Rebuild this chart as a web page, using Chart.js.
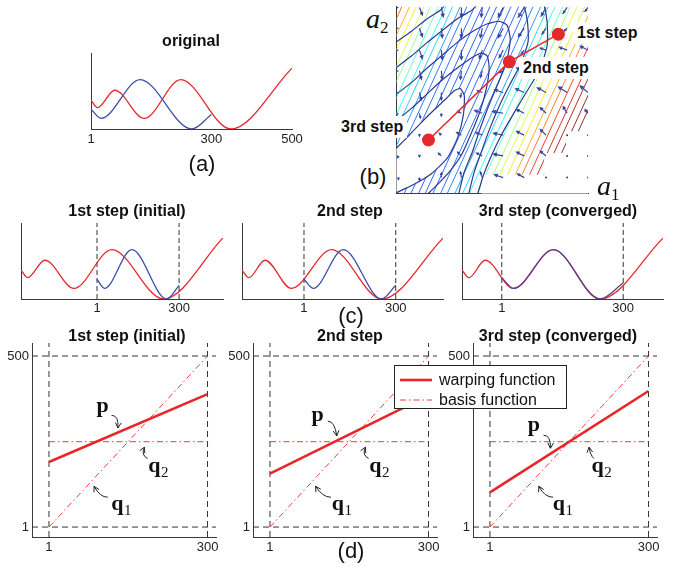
<!DOCTYPE html>
<html>
<head>
<meta charset="utf-8">
<script src="https://cdn.jsdelivr.net/npm/chart.js@4.4.1/dist/chart.umd.min.js"></script>
<style>
  html, body { margin: 0; padding: 0; background: #fff; overflow: hidden; }
  #fig { position: relative; width: 677px; height: 567px; overflow: hidden; font-family: "Liberation Sans", Arial, sans-serif; color: #111; }
  #fig canvas { position: absolute; }
  .ttl { position: absolute; transform: translate(-50%, -50%); font-weight: bold; font-size: 16px; white-space: nowrap; }
  .pan { position: absolute; transform: translate(-50%, -50%); font-size: 22px; white-space: nowrap; }
  .stp { position: absolute; transform: translateY(-50%); font-weight: bold; font-size: 16px; background: #fff; padding: 2px 4px; white-space: nowrap; }
  .ax { position: absolute; font-family: "Liberation Serif", serif; font-style: italic; font-size: 28px; line-height: 28px; white-space: nowrap; }
  .ax sub { font-style: normal; font-size: 17px; vertical-align: -5px; }
  #legend { position: absolute; left: 394px; top: 365px; width: 171px; height: 42px; border: 1px solid #222; background: #fff; }
  .lrow { position: absolute; left: 5px; height: 20px; line-height: 20px; font-size: 16px; display: flex; align-items: center; white-space: nowrap; }
  .lrow svg { margin-right: 7px; }
</style>
</head>
<body>
<div id="fig">
  <canvas id="chartA" width="250" height="110" style="left:60px;top:45px"></canvas>
  <canvas id="chartB" width="205" height="200" style="left:390px;top:0px"></canvas>
  <canvas id="chartC0" width="235" height="105" style="left:0px;top:215px"></canvas>
  <canvas id="chartC1" width="235" height="105" style="left:221px;top:215px"></canvas>
  <canvas id="chartC2" width="235" height="105" style="left:441px;top:215px"></canvas>
  <canvas id="chartD0" width="230" height="235" style="left:0px;top:331px"></canvas>
  <canvas id="chartD1" width="230" height="235" style="left:221px;top:331px"></canvas>
  <canvas id="chartD2" width="230" height="235" style="left:441px;top:331px"></canvas>

  <div class="ttl" style="left:191px;top:41px">original</div>
  <div class="pan" style="left:202px;top:164px">(a)</div>

  <div class="ax" style="left:366px;top:5px">a<sub>2</sub></div>
  <div class="ax" style="left:597px;top:172px">a<sub>1</sub></div>
  <div class="stp" style="left:573px;top:33px">1st step</div>
  <div class="stp" style="left:519px;top:68px">2nd step</div>
  <div class="stp" style="left:337px;top:127px">3rd step</div>
  <div class="pan" style="left:373px;top:177px">(b)</div>

  <div class="ttl" style="left:127px;top:211px">1st step (initial)</div>
  <div class="ttl" style="left:350px;top:211px">2nd step</div>
  <div class="ttl" style="left:558px;top:211px">3rd step (converged)</div>
  <div class="pan" style="left:351px;top:316px">(c)</div>

  <div class="ttl" style="left:127px;top:336px">1st step (initial)</div>
  <div class="ttl" style="left:350px;top:336px">2nd step</div>
  <div class="ttl" style="left:558px;top:336px">3rd step (converged)</div>
  <div class="pan" style="left:351px;top:551px">(d)</div>

  <div id="legend">
    <div class="lrow" style="top:4px"><svg width="32" height="10"><line x1="0" y1="5" x2="32" y2="5" stroke="#e8262a" stroke-width="2.6"/></svg><span>warping function</span></div>
    <div class="lrow" style="top:24px"><svg width="32" height="10"><line x1="0" y1="5" x2="32" y2="5" stroke="#ee3a3a" stroke-width="1" stroke-dasharray="6 3 1.5 3"/></svg><span>basis function</span></div>
  </div>
</div>

<script>
// (a) original signals, sample index vs amplitude (extrema)
const origRedX = [1, 17, 60, 133, 224, 348, 500];
const origRedY = [0.38, 0.28, 0.51, 0.14, 0.65, 0, 0.80];
const origBlueX = [1, 26, 123, 251, 300];
const origBlueY = [0.26, 0.14, 0.65, 0, 0.19];
const origTicks = [1, 300, 500];

// (c) red signal and warped blue signal at each step
const stepRedX = [
    [-276, -252, -189, -83, 55, 243, 459],
    [-201, -179, -126, -40, 91, 254, 454],
    [-97, -80, -40, 30, 128, 243, 398]
];
const stepRedY = [0.38, 0.28, 0.51, 0.14, 0.65, 0, 0.80];
const stepBlueX = [
    [1, 28, 128, 255, 300],
    [1, 31, 129, 254, 300],
    [1, 30, 128, 243, 300]
];
const stepBlueY = [
    [0.26, 0.14, 0.65, 0, 0.18],
    [0.26, 0.14, 0.65, 0, 0.18],
    [0.28, 0.14, 0.65, 0, 0.21]
];
const stepXRange = [[-276, 460], [-201, 454], [-97, 398]];
const sampleTicks = [1, 300];

// (d) warping function (value at 1 and at 300) and basis functions
const warpStart = [191, 157, 102];
const warpEnd = [389, 385, 398];
const basisQ1X = [1, 300];
const basisQ1Y = [1, 500];
const basisQ2Level = 250;
const warpXTicks = [1, 300];
const warpYTicks = [1, 500];

// (b) cost surface in (a1, a2), both on 0..1
const hatchSlope = 2.23;
const hatchOffsets = [-0.46, -0.42, -0.38, -0.345, -0.305, -0.27, -0.23, -0.19, -0.155, -0.115, -0.08, -0.04, 0, 0.04, 0.075, 0.115, 0.15,
    0.19, 0.23, 0.265, 0.305, 0.345, 0.38, 0.42, 0.46, 0.495, 0.535, 0.575, 0.61, 0.65, 0.69, 0.725, 0.765, 0.80];
const hatchLevels = [0.86, 0.80, 0.72, 0.64, 0.57, 0.50, 0.44, 0.38, 0.32, 0.26, 0.22, 0.2, 0.19, 0.19, 0.19, 0.19, 0.2,
    0.2, 0.21, 0.23, 0.26, 0.33, 0.39, 0.45, 0.52, 0.58, 0.65, 0.72, 0.78, 0.85, 0.91, 0.97, 1, 1];
const contours = [
    [[-0.01, 0.233], [0.052, 0.296], [0.12, 0.37], [0.193, 0.444], [0.26, 0.508], [0.302, 0.55], [0.333, 0.561], [0.354, 0.524],
     [0.349, 0.418], [0.318, 0.296], [0.266, 0.19], [0.182, 0.106], [0.089, 0.048], [-0.01, 0.0]],
    [[-0.01, 0.381], [0.078, 0.455], [0.156, 0.529], [0.234, 0.603], [0.3125, 0.667], [0.391, 0.725], [0.443, 0.751], [0.474, 0.735],
     [0.484, 0.667], [0.469, 0.561], [0.4375, 0.444], [0.391, 0.323], [0.339, 0.206], [0.276, 0.116], [0.208, 0.042], [0.156, -0.01]],
    [[-0.01, 0.524], [0.078, 0.593], [0.156, 0.667], [0.234, 0.735], [0.3125, 0.804], [0.391, 0.862], [0.469, 0.905], [0.536, 0.921],
     [0.578, 0.899], [0.594, 0.825], [0.578, 0.72], [0.536, 0.603], [0.484, 0.476], [0.4375, 0.349], [0.396, 0.222], [0.354, 0.116], [0.323, -0.01]],
    [[-0.01, 0.667], [0.078, 0.735], [0.156, 0.804], [0.234, 0.868], [0.3125, 0.931], [0.391, 0.979], [0.453, 1.03], [0.651, 1.03],
     [0.682, 0.931], [0.6875, 0.815], [0.651, 0.698], [0.589, 0.577], [0.531, 0.455], [0.484, 0.339], [0.443, 0.222], [0.406, 0.116], [0.375, -0.01]],
    [[-0.01, 0.804], [0.078, 0.868], [0.156, 0.931], [0.234, 0.984], [0.276, 1.03], [0.755, 1.03], [0.786, 0.921], [0.786, 0.788],
     [0.745, 0.656], [0.677, 0.54], [0.609, 0.423], [0.547, 0.312], [0.495, 0.201], [0.453, 0.095], [0.422, -0.01]]
];
// region where the cost is undefined (left blank)
const invalidRegion = [[1.05, 0.333], [0.885, 0.333], [0.885, 0.217], [0.771, 0.217], [0.771, 0.1], [0.443, 0.1], [0.443, -0.05], [1.05, -0.05]];

// gradient field (u, v in hundredths of the axis)
const quiverCols = [0.01, 0.12, 0.234, 0.339, 0.448, 0.557, 0.667, 0.781, 0.891, 1.0];
const quiverRows = [0.995, 0.884, 0.767, 0.656, 0.54, 0.429, 0.312, 0.201, 0.085];
const quiverU = [
    [-3, 1.5, 1, 0, -0.5, -2.5, -3, -2.5, -2, -1.5],
    [-4, 1.5, 0.5, 0, -1, -2.5, -3, -2, -1.5, -2],
    [-3, 1.5, 0.5, 0, -1.5, -2, -1.5, -3, -4, -4],
    [-2.5, 1, 0.5, -0.5, -1, -2, -4, -4, -4.5, -4.5],
    [-2, 1, 0, -0.5, -2.5, -4.5, -4.5, -4.5, -4.5, -4],
    [-1.5, 0.5, 0, -2, -4, -5.5, -4, -3, -2, -1.5],
    [-1, 0, -1, -2.5, -3.5, -5, -4, -3, 0, 0],
    [-0.5, 0, -1.5, -2, -3, -5, -4, -3, 0, 0],
    [0, 0, 0, -0.5, -1, -4.5, -3.5, 0, 0, 0]
];
const quiverV = [
    [-1, -4, -5, -5, -5, -5, -5, -4.5, -3, -2],
    [-1, -4.5, -5, -5, -5, -5, -4.5, -3, -1.5, -1],
    [-0.5, -4.5, -5, -5, -4.5, -4, -2, 1, 1.5, 2],
    [-0.5, -4.5, -4.5, -4.5, -3.5, -1, 1.5, 2, 2.5, 3],
    [-0.5, -4, -4, -2.5, 1, 1.5, 2, 2.5, 3, 3.5],
    [-1.5, -2.5, -1.5, 1, 1.5, 1, 2, 3, 3.5, 2],
    [-1.5, -0.5, 1, 1.5, 1.5, 1, 2, 3, 0, 0],
    [-1, -0.5, 1.5, 2, 1.5, 1, 2, 2.5, 0, 0],
    [-1, -1.5, 2.5, 3, 3, 1.5, 2, 0, 0, 0]
];
// optimisation path: 1st, 2nd, 3rd step
const stepA1 = [0.845, 0.589, 0.167];
const stepA2 = [0.852, 0.704, 0.286];

// label positions for p, q1, q2 in (d), in data units of each panel
const dNotes = [
    { p: [102, 336], pArrow: [[119, 327], [133, 327], [131, 290]],
      q2: [200, 161], q2Arrow: [[187, 201], [174, 211], [181, 234]],
      q1: [130, 52], q1Arrow: [[112, 88], [97, 88], [86, 120]] },
    { p: [91, 309], pArrow: [[110, 310], [123, 310], [127, 267]],
      q2: [200, 161], q2Arrow: [[187, 201], [174, 211], [181, 234]],
      q1: [129, 52], q1Arrow: [[116, 88], [100, 88], [87, 120]] },
    { p: [84, 282], pArrow: [[102, 269], [116, 269], [115, 231]],
      q2: [204, 161], q2Arrow: [[197, 201], [190, 211], [188, 234]],
      q1: [131, 52], q1Arrow: [[120, 88], [104, 88], [93, 120]] }
];

const RED = '#e5282c';
const BLUE = '#3d4fa6';
const PURPLE = '#5b3f92';
const NAVY = '#2c3a94';
const AXIS = '#3a3a3a';
const tickFont = { family: '"Liberation Sans", Arial, sans-serif', size: 13 };

// jet colour map, softened a little towards white
function jet(t) {
    const c = v => Math.round(255 * (0.18 + 0.82 * Math.max(0, Math.min(1, v))));
    return 'rgb(' + c(1.5 - Math.abs(4 * t - 3)) + ',' + c(1.5 - Math.abs(4 * t - 2)) + ',' + c(1.5 - Math.abs(4 * t - 1)) + ')';
}

function curve(xs, ys) {
    return xs.map((x, i) => ({ x: x, y: ys[i] }));
}

function sigLine(points, color) {
    return { data: points, borderColor: color, borderWidth: 1.3, pointRadius: 0, cubicInterpolationMode: 'monotone', fill: false };
}

function guide(points, dash, color, width) {
    return { data: points, borderColor: color || '#333', borderWidth: width || 1, borderDash: dash, pointRadius: 0, fill: false };
}

function oneAxis(min, max, ticks, pad, size, key) {
    const ax = {
        type: 'linear', min: min, max: max,
        grid: { display: false, drawTicks: false },
        border: { display: true, color: AXIS, width: 1 },
        ticks: { display: ticks.length > 0, padding: pad, font: tickFont, color: '#222', maxRotation: 0, autoSkip: false },
        afterFit: s => { s[key] = size; }
    };
    if (ticks.length) ax.afterBuildTicks = s => { s.ticks = ticks.map(v => ({ value: v })); };
    return ax;
}

function makeChart(id, datasets, scales, padding, notes) {
    return new Chart(document.getElementById(id), {
        type: 'line',
        data: { datasets: datasets },
        options: {
            responsive: false, animation: false, events: [], devicePixelRatio: 1,
            layout: { padding: padding },
            scales: scales,
            plugins: { legend: { display: false }, tooltip: { enabled: false }, notes: { items: notes } }
        },
        plugins: [notesPlugin]
    });
}

// draws p, q1, q2 and the small curved arrows in the (d) panels
const notesPlugin = {
    id: 'notes',
    afterDatasetsDraw(chart, args, opts) {
        const n = opts.items;
        if (!n) return;
        const ctx = chart.ctx;
        const P = v => [chart.scales.x.getPixelForValue(v[0]), chart.scales.y.getPixelForValue(v[1])];
        ctx.save();
        ctx.fillStyle = '#111';
        ctx.strokeStyle = '#222';
        ctx.lineWidth = 1;
        const letter = (pos, main, sub) => {
            const [x, y] = P(pos);
            ctx.font = 'bold 22px "Liberation Serif", serif';
            const w = ctx.measureText(main).width;
            ctx.textAlign = 'left';
            ctx.textBaseline = 'alphabetic';
            ctx.fillText(main, x - w / 2, y);
            if (sub) {
                ctx.font = '15px "Liberation Serif", serif';
                ctx.fillText(sub, x + w / 2 + 0.5, y + 5);
            }
        };
        letter(n.p, 'p');
        letter(n.q2, 'q', '2');
        letter(n.q1, 'q', '1');
        [n.pArrow, n.q2Arrow, n.q1Arrow].forEach(a => {
            const [s, c, e] = a.map(P);
            ctx.beginPath();
            ctx.moveTo(s[0], s[1]);
            ctx.quadraticCurveTo(c[0], c[1], e[0], e[1]);
            ctx.stroke();
            const ang = Math.atan2(e[1] - c[1], e[0] - c[0]);
            ctx.beginPath();
            ctx.moveTo(e[0] - 6 * Math.cos(ang - 0.5), e[1] - 6 * Math.sin(ang - 0.5));
            ctx.lineTo(e[0], e[1]);
            ctx.lineTo(e[0] - 6 * Math.cos(ang + 0.5), e[1] - 6 * Math.sin(ang + 0.5));
            ctx.stroke();
        });
        ctx.restore();
    }
};

// (a)
makeChart('chartA', [
    sigLine(curve(origBlueX, origBlueY), BLUE),
    sigLine(curve(origRedX, origRedY), RED)
], {
    x: oneAxis(1, 500, origTicks, 3, 26, 'height'),
    y: oneAxis(0, 1, [], 0, 31, 'width')
}, { left: 0, top: 8, right: 18, bottom: 0 });

// (c)
stepXRange.forEach((rng, i) => {
    makeChart('chartC' + i, [
        sigLine(curve(stepBlueX[i], stepBlueY[i]), i === 2 ? PURPLE : BLUE),
        sigLine(curve(stepRedX[i], stepRedY), RED),
        guide([{ x: sampleTicks[0], y: 0 }, { x: sampleTicks[0], y: 1 }], [5, 3]),
        guide([{ x: sampleTicks[1], y: 0 }, { x: sampleTicks[1], y: 1 }], [5, 3])
    ], {
        x: oneAxis(rng[0], rng[1], sampleTicks, 2, 21, 'height'),
        y: oneAxis(0, 1, [], 0, 21, 'width')
    }, { left: 0, top: 8, right: i === 0 ? 12 : 13, bottom: 0 });
});

// (d)
const dX = [-31, 316];
const dY = [-28, 538];
warpStart.forEach((w0, i) => {
    makeChart('chartD' + i, [
        { data: [{ x: warpXTicks[0], y: w0 }, { x: warpXTicks[1], y: warpEnd[i] }], borderColor: '#e8262a', borderWidth: 2.6, pointRadius: 0, fill: false },
        guide(curve(basisQ1X, basisQ1Y), [6, 3, 1.5, 3], '#ee3a3a', 1),
        guide([{ x: warpXTicks[0], y: basisQ2Level }, { x: warpXTicks[1], y: basisQ2Level }], [6, 3, 1.5, 3], '#ee3a3a', 1),
        guide([{ x: warpXTicks[0], y: dY[0] }, { x: warpXTicks[0], y: dY[1] }], [6, 4]),
        guide([{ x: warpXTicks[1], y: dY[0] }, { x: warpXTicks[1], y: dY[1] }], [6, 4]),
        guide([{ x: dX[0], y: warpYTicks[0] }, { x: dX[1], y: warpYTicks[0] }], [6, 4]),
        guide([{ x: dX[0], y: warpYTicks[1] }, { x: dX[1], y: warpYTicks[1] }], [6, 4])
    ], {
        x: oneAxis(dX[0], dX[1], warpXTicks, 3, 29, 'height'),
        y: oneAxis(dY[0], dY[1], warpYTicks, 3, 32, 'width')
    }, { left: 0, top: 12, right: 14, bottom: 0 }, dNotes[i]);
});

// (b)
const bSets = [];
bSets.push({ data: curve(stepA1, stepA2), showLine: false, pointRadius: 6.5, pointBackgroundColor: RED, pointBorderWidth: 0, order: 1 });
bSets.push({ data: curve(stepA1, stepA2), borderColor: RED, borderWidth: 1.5, pointRadius: 0, fill: false, order: 2 });

const quiverLines = [];
const quiverDots = [];
quiverRows.forEach((a2, r) => {
    quiverCols.forEach((a1, c) => {
        const u = quiverU[r][c] * 0.01;
        const v = quiverV[r][c] * 0.01;
        const len = Math.hypot(u, v);
        if (len === 0) {
            quiverDots.push({ x: a1, y: a2 });
            return;
        }
        const tx = a1 + u, ty = a2 + v;
        const ang = Math.atan2(v, u);
        const h = Math.max(0.012, len * 0.38);
        quiverLines.push({ x: a1, y: a2 }, { x: tx, y: ty }, { x: tx, y: null });
        quiverLines.push({ x: tx - h * Math.cos(ang - 0.45), y: ty - h * Math.sin(ang - 0.45) }, { x: tx, y: ty },
            { x: tx - h * Math.cos(ang + 0.45), y: ty - h * Math.sin(ang + 0.45) }, { x: tx, y: null });
    });
});
bSets.push({ data: quiverDots, showLine: false, pointRadius: 1, pointBackgroundColor: NAVY, pointBorderWidth: 0, order: 3 });
bSets.push({ data: quiverLines, borderColor: '#3347a0', borderWidth: 1.2, pointRadius: 0, spanGaps: false, fill: false, order: 4 });

contours.forEach((c, i) => {
    const ds = { data: c.map(p => ({ x: p[0], y: p[1] })), borderColor: NAVY, borderWidth: 1.2, pointRadius: 0, tension: 0.2, order: 5, fill: false };
    if (i === 0) {
        ds.fill = 'shape';
        ds.backgroundColor = '#ffffff';
        ds.order = 6;
    }
    bSets.push(ds);
});

bSets.push({ data: invalidRegion.map(p => ({ x: p[0], y: p[1] })), borderWidth: 0, borderColor: 'rgba(0,0,0,0)', backgroundColor: '#ffffff', fill: 'shape', pointRadius: 0, order: 7 });

hatchOffsets.forEach((b, i) => {
    bSets.push({ data: [{ x: b, y: 0 }, { x: b + 1 / hatchSlope, y: 1 }], borderColor: jet(hatchLevels[i]), borderWidth: 1, pointRadius: 0, fill: false, order: 8 });
});

makeChart('chartB', bSets, {
    x: oneAxis(0, 1, [], 0, 6, 'height'),
    y: oneAxis(0, 1, [], 0, 5, 'width')
}, { left: 0, top: 5, right: 7, bottom: 0 });
</script>
</body>
</html>
